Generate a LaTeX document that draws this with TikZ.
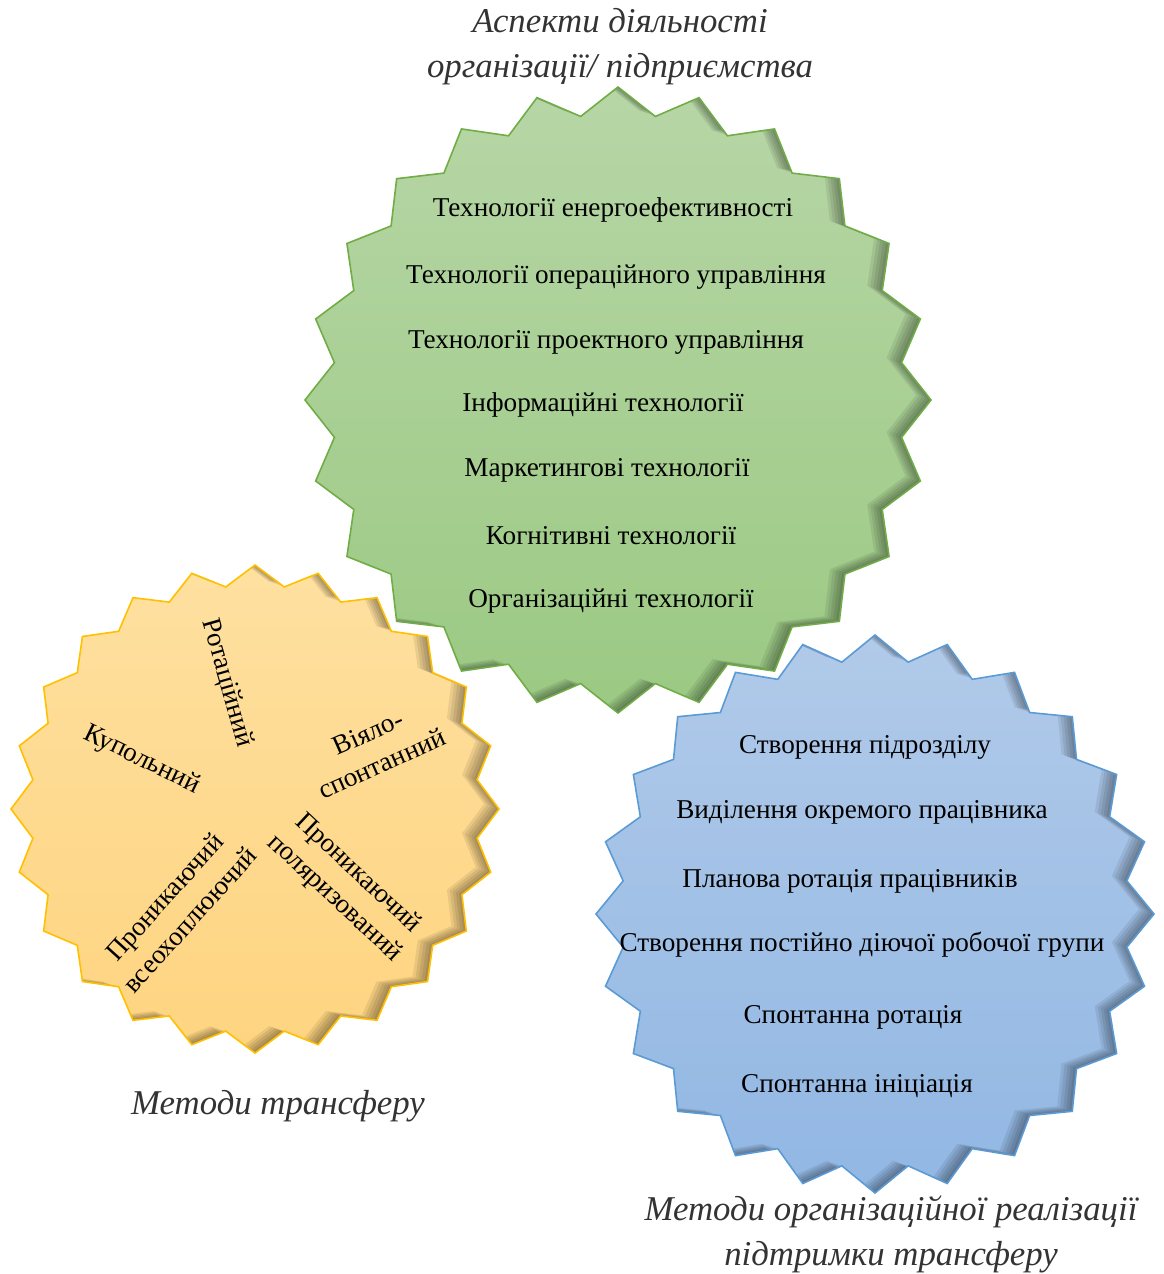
\documentclass[tikz,border=0pt]{standalone}
\usepackage{fontspec}
\setmainfont{Liberation Serif}
\usetikzlibrary{positioning}

\definecolor{greenline}{RGB}{112,173,71}
\definecolor{greentop}{RGB}{183,214,166}
\definecolor{greenbot}{RGB}{155,201,131}
\definecolor{goldline}{RGB}{255,192,0}
\definecolor{goldtop}{RGB}{254,224,160}
\definecolor{goldbot}{RGB}{254,212,128}
\definecolor{blueline}{RGB}{91,155,213}
\definecolor{bluetop}{RGB}{177,202,233}
\definecolor{bluebot}{RGB}{145,183,227}

% star with 24 points: centre, outer radius, inner radius
\newcommand{\burst}[3]{([shift={(#1)}]90:#2)
  \foreach \a in {0,15,...,345}{ -- ([shift={(#1)}]90+\a:#2) -- ([shift={(#1)}]97.5+\a:#3)} -- cycle}

\tikzset{
  item/.style={font=\fontsize{13.6}{16}\selectfont, text height=1.6ex, text depth=.4ex, inner sep=0pt},
  spoke/.style={font=\fontsize{13.5}{17}\selectfont, align=center, inner sep=0pt},
  caption/.style={font=\fontsize{17.4}{22.5}\selectfont\itshape, text=black!80, align=center, inner sep=0pt},
  inshadow/.style={black, opacity=.08, even odd rule}
}

\begin{document}
\begin{tikzpicture}[x=0.5pt, y=-0.5pt]
  \useasboundingbox (0,0) rectangle (1163,1274);

  % green star
  \fill[top color=greentop, bottom color=greenbot] \burst{618,400}{313}{286};
  \begin{scope}
    \clip \burst{618,400}{313}{286};
    \foreach \d in {3,6,9,12,15}
      \fill[inshadow] (0,0) rectangle (1163,1274) \burst{618-\d,400-\d/3}{313}{286};
  \end{scope}
  \draw[greenline, line width=0.8pt] \burst{618,400}{313}{286};

  % orange star
  \fill[top color=goldtop, bottom color=goldbot] \burst{255,809}{244}{224};
  \begin{scope}
    \clip \burst{255,809}{244}{224};
    \foreach \d in {3,6,9,12,15}
      \fill[inshadow] (0,0) rectangle (1163,1274) \burst{255-\d,809-\d/3}{244}{224};
  \end{scope}
  \draw[goldline, line width=0.8pt] \burst{255,809}{244}{224};

  % blue star
  \fill[top color=bluetop, bottom color=bluebot] \burst{875,914}{279}{254};
  \begin{scope}
    \clip \burst{875,914}{279}{254};
    \foreach \d in {3,6,9,12,15}
      \fill[inshadow] (0,0) rectangle (1163,1274) \burst{875-\d,914-\d/3}{279}{254};
  \end{scope}
  \draw[blueline, line width=0.8pt] \burst{875,914}{279}{254};

  % captions
  \node[caption] (aspects) at (620,47) {Аспекти діяльності\\організації/ підприємства};
  \node[caption] (transfer) at (278,1106) {Методи трансферу};
  \node[caption] (realis) at (891,1234) {Методи організаційної реалізації\\підтримки трансферу};

  % green items
  \node[item] (g1) at (613,211) {Технології енергоефективності};
  \node[item] (g2) at (616,278) {Технології операційного управління};
  \node[item] (g3) at (606,343) {Технології проектного управління};
  \node[item] (g4) at (603,406) {Інформаційні технології};
  \node[item] (g5) at (607,471) {Маркетингові технології};
  \node[item] (g6) at (611,539) {Когнітивні технології};
  \node[item] (g7) at (611,602) {Організаційні технології};

  % orange spokes
  \node[spoke, rotate=-74] (o1) at (227,683) {Ротаційний};
  \node[spoke, rotate=-26] (o2) at (142,760) {Купольний};
  \node[spoke, rotate=24] (o3) at (375,748) {Віяло-\\спонтанний};
  \node[spoke, rotate=-43] (o4) at (346,886) {Проникаючий\\поляризований};
  \node[spoke, rotate=48] (o5) at (177,908) {Проникаючий\\всеохоплюючий};

  % blue items
  \node[item] (b1) at (865,748) {Створення підрозділу};
  \node[item] (b2) at (862,813) {Виділення окремого працівника};
  \node[item] (b3) at (850,882) {Планова ротація працівників};
  \node[item] (b4) at (862,946) {Створення постійно діючої робочої групи};
  \node[item] (b5) at (853,1018) {Спонтанна ротація};
  \node[item] (b6) at (857,1087) {Спонтанна ініціація};
\end{tikzpicture}
\end{document}
